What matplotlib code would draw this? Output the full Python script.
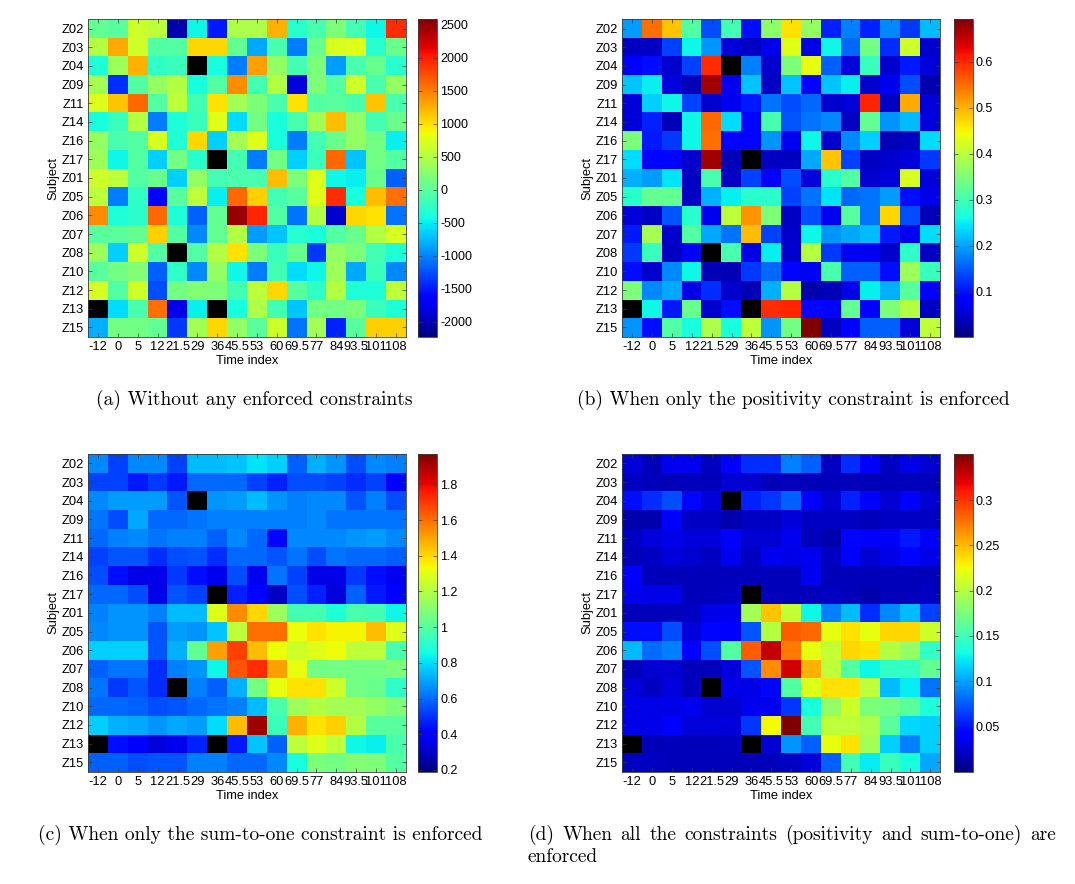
import numpy as np
import matplotlib
matplotlib.use('Agg')
import matplotlib.pyplot as plt
from matplotlib.colors import Normalize

plt.rcParams['font.family'] = ['Liberation Sans', 'DejaVu Sans']
plt.rcParams['axes.unicode_minus'] = False

subjects = ['Z02', 'Z03', 'Z04', 'Z09', 'Z11', 'Z14', 'Z16', 'Z17', 'Z01',
            'Z05', 'Z06', 'Z07', 'Z08', 'Z10', 'Z12', 'Z13', 'Z15']
time_labels = ['-12', '0', '5', '12', '21.5', '29', '36', '45.5', '53', '60',
               '69.5', '77', '84', '93.5', '101', '108']

N = None  # black (masked) cells

# (a) Without any enforced constraints
data_a = [
    [35, -13, 661, 565, -2034, -446, -1505, 468, 468, 1238, -302, -109, 180, -157, -446, 1912],
    [517, 1286, 661, -61, -61, 1046, 1046, 35, -831, -109, -1024, 83, 709, 757, -302, 83],
    [-350, 372, 1238, -254, -206, N, -398, -1024, 1335, 324, -157, 180, -879, -109, 83, -302],
    [420, -1409, -61, 324, 517, -398, -61, 1431, -157, 517, -1842, 180, -61, 661, -109, 324],
    [757, 1142, 1623, -61, 565, -157, 998, 420, 180, -109, 998, -61, -13, -109, 1142, -109],
    [-398, -206, 517, -1024, -350, -206, 757, -591, 131, -398, -109, 420, 1190, 324, -157, 83],
    [324, -109, -61, 709, -350, 1046, -639, 420, 757, -398, -1024, -157, 83, 324, 131, -494],
    [372, -446, -61, -639, 131, -302, N, -157, -1024, 131, -639, -206, 1623, -687, 131, -61],
    [661, 565, -61, 83, -639, 324, -157, -109, -109, 1190, 180, 757, -446, -494, 83, -1168],
    [565, -1024, -254, -1649, -13, 565, -494, 1623, 1094, -157, -13, 757, 1912, -398, 1190, 1575],
    [1431, -350, -302, 1623, -350, -1168, 35, 2490, 1960, -61, -1072, 517, -1890, 1046, 998, -1072],
    [-13, -13, 35, 1094, -61, -976, 35, 517, -879, -687, -302, -398, -61, 83, 517, 709],
    [372, -639, 661, -61, N, -61, 517, 998, 180, -206, 83, -1361, 324, 180, -157, -350],
    [-13, 131, 228, -1168, -254, -976, 324, -446, -1024, -157, -591, -446, 372, -831, -206, -976],
    [709, -61, 661, -1264, 131, 228, 180, -157, 565, 1046, -13, -254, 517, -350, -350, 565],
    [N, -591, -109, 1575, -1794, -494, N, -398, 468, -157, -687, 131, 131, 180, -206, -350],
    [-783, 131, 131, 35, -1361, 420, 1046, 324, -13, 661, -1072, 420, -1457, -13, 1094, 1094],
]
range_a = (-2227, 2586)
ticks_a = [-2000, -1500, -1000, -500, 0, 500, 1000, 1500, 2000, 2500]
ticklabels_a = ['-2000', '-1500', '-1000', '-500', '0', '500', '1000', '1500', '2000', '2500']

# (b) When only the positivity constraint is enforced
data_b = [
    [.195, .547, .485, .313, .140, .299, .099, .361, .464, .368, .112, .175, .112, .181, .126, .216],
    [.043, .043, .133, .257, .188, .057, .043, .071, .430, .064, .257, .161, .340, .119, .416, .050],
    [.078, .099, .050, .133, .595, N, .175, .050, .347, .437, .154, .057, .292, .050, .106, .057],
    [.223, .250, .057, .037, .671, .071, .223, .043, .223, .085, .223, .250, .050, .071, .140, .030],
    [.057, .230, .257, .133, .050, .071, .106, .168, .140, .161, .050, .057, .602, .043, .506, .057],
    [.057, .112, .037, .257, .554, .237, .092, .306, .147, .168, .181, .043, .326, .188, .216, .057],
    [.347, .106, .126, .257, .547, .092, .092, .188, .071, .257, .050, .181, .230, .037, .043, .237],
    [.237, .092, .092, .050, .671, .037, N, .043, .043, .202, .485, .133, .043, .050, .057, .126],
    [.209, .195, .244, .043, .306, .043, .133, .085, .140, .057, .278, .313, .050, .057, .423, .057],
    [.278, .326, .326, .043, .209, .250, .278, .278, .133, .168, .244, .161, .168, .195, .099, .064],
    [.057, .043, .147, .278, .071, .402, .520, .347, .043, .140, .071, .319, .168, .471, .140, .037],
    [.106, .382, .050, .313, .202, .168, .492, .133, .050, .257, .188, .202, .216, .106, .071, .237],
    [.126, .292, .043, .078, N, .306, .064, .250, .050, .395, .126, .071, .071, .050, .285, .043],
    [.099, .050, .181, .257, .037, .037, .126, .161, .092, .085, .306, .154, .154, .099, .375, .292],
    [.347, .181, .202, .064, .119, .050, .037, .209, .395, .030, .037, .064, .250, .209, .319, .085],
    [N, .257, .106, .333, .050, .099, N, .595, .602, .092, .092, .326, .078, .347, .395, .043],
    [.188, .099, .313, .264, .388, .264, .402, .188, .340, .692, .043, .085, .154, .154, .057, .402],
]
range_b = (0.002, 0.692)
ticks_b = [0.1, 0.2, 0.3, 0.4, 0.5, 0.6]
ticklabels_b = ['0.1', '0.2', '0.3', '0.4', '0.5', '0.6']

# (c) When only the sum-to-one constraint is enforced
data_c = [
    [.65, .53, .65, .65, .53, .74, .74, .76, .81, .78, .58, .72, .67, .55, .65, .64],
    [.53, .53, .46, .51, .46, .60, .60, .60, .53, .47, .55, .55, .53, .49, .53, .39],
    [.65, .69, .69, .69, .56, N, .67, .69, .74, .67, .64, .65, .65, .56, .64, .55],
    [.62, .55, .71, .60, .60, .62, .64, .64, .64, .64, .64, .65, .62, .62, .62, .62],
    [.60, .64, .65, .62, .64, .64, .58, .65, .60, .42, .65, .65, .65, .67, .69, .65],
    [.53, .56, .56, .49, .55, .56, .49, .60, .60, .56, .62, .55, .62, .60, .60, .58],
    [.55, .44, .35, .35, .51, .44, .37, .55, .37, .62, .53, .35, .35, .51, .44, .37],
    [.60, .60, .55, .35, .56, .53, N, .47, .42, .30, .55, .47, .33, .58, .46, .40],
    [.64, .67, .67, .64, .74, .74, 1.29, 1.54, 1.40, 1.15, .96, .96, .88, .97, .96, .85],
    [.65, .67, .67, .56, .69, .67, .76, 1.22, 1.60, 1.60, 1.33, 1.38, 1.35, 1.35, 1.45, 1.29],
    [.78, .78, .78, .56, .72, 1.03, 1.51, 1.69, 1.45, 1.33, 1.26, 1.29, 1.33, 1.22, 1.22, .97],
    [.58, .62, .62, .49, .64, .67, .85, 1.65, 1.72, 1.51, 1.31, 1.06, 1.06, 1.06, 1.06, 1.08],
    [.62, .51, .56, .49, N, .64, .58, .72, 1.06, 1.31, 1.38, 1.38, 1.26, 1.06, 1.04, .92],
    [.60, .60, .58, .55, .56, .60, .62, .64, .74, .97, 1.15, 1.20, 1.17, 1.17, 1.13, 1.08],
    [.78, .72, .71, .67, .71, .69, .80, 1.45, 1.92, .94, 1.47, 1.38, 1.42, 1.20, 1.01, 1.01],
    [N, .44, .40, .33, .37, .47, N, .46, .76, .58, 1.22, 1.29, 1.22, .85, .83, .97],
    [.58, .58, .55, .56, .56, .64, .64, .60, .60, .65, .87, 1.08, 1.06, 1.10, 1.08, .99],
]
range_c = (0.19, 1.97)
ticks_c = [0.2, 0.4, 0.6, 0.8, 1.0, 1.2, 1.4, 1.6, 1.8]
ticklabels_c = ['0.2', '0.4', '0.6', '0.8', '1', '1.2', '1.4', '1.6', '1.8']

# (d) When all the constraints are enforced
data_d = [
    [.028, .018, .035, .035, .021, .042, .060, .060, .088, .077, .021, .060, .042, .021, .032, .025],
    [.021, .018, .018, .018, .018, .025, .025, .018, .018, .018, .018, .018, .018, .018, .018, .018],
    [.049, .060, .070, .046, .028, N, .056, .063, .077, .042, .025, .056, .042, .025, .039, .025],
    [.014, .014, .042, .021, .021, .014, .021, .021, .028, .021, .021, .021, .018, .021, .021, .021],
    [.021, .028, .032, .028, .028, .039, .025, .025, .035, .018, .014, .046, .039, .039, .053, .039],
    [.018, .021, .028, .025, .021, .035, .021, .035, .032, .035, .021, .042, .025, .032, .046, .032],
    [.042, .018, .018, .018, .018, .018, .018, .018, .018, .035, .018, .018, .018, .018, .018, .018],
    [.035, .032, .032, .018, .018, .021, N, .018, .018, .018, .021, .018, .014, .018, .018, .021],
    [.018, .018, .018, .021, .032, .035, .193, .246, .207, .130, .088, .109, .060, .091, .109, .067],
    [.049, .049, .070, .028, .046, .042, .074, .200, .284, .281, .221, .235, .221, .239, .239, .211],
    [.109, .081, .088, .042, .070, .158, .284, .330, .274, .221, .207, .239, .235, .200, .186, .144],
    [.018, .025, .025, .018, .018, .028, .074, .267, .326, .253, .204, .158, .130, .144, .144, .165],
    [.028, .021, .028, .018, N, .032, .032, .046, .158, .218, .235, .235, .204, .109, .126, .084],
    [.032, .032, .032, .035, .025, .025, .035, .035, .063, .133, .186, .211, .176, .172, .161, .137],
    [.032, .032, .039, .028, .028, .028, .063, .225, .351, .151, .204, .204, .197, .161, .119, .116],
    [N, .018, .018, .018, .018, .021, N, .025, .095, .077, .221, .235, .193, .116, .088, .116],
    [.021, .021, .018, .018, .018, .018, .018, .018, .021, .028, .077, .151, .126, .147, .133, .102],
]
range_d = (0.0, 0.351)
ticks_d = [0.05, 0.1, 0.15, 0.2, 0.25, 0.3]
ticklabels_d = ['0.05', '0.1', '0.15', '0.2', '0.25', '0.3']

captions = ['(a) Without any enforced constraints',
            '(b) When only the positivity constraint is enforced',
            '(c) When only the sum-to-one constraint is enforced',
            '(d) When all the constraints (positivity and sum-to-one) are',
            'enforced']

W, H = 1075, 884
fig = plt.figure(figsize=(W / 100, H / 100), dpi=100)


def px_axes(x0, y0, x1, y1):
    return fig.add_axes([x0 / W, 1 - y1 / H, (x1 - x0) / W, (y1 - y0) / H])


cmap = plt.get_cmap('jet').copy()
cmap.set_bad('black')

panels = [
    (data_a, range_a, ticks_a, ticklabels_a, (88.3, 19.3, 405.7, 336.7), (418.3, 437.3)),
    (data_b, range_b, ticks_b, ticklabels_b, (622.3, 19.3, 940.3, 336.7), (954.0, 972.5)),
    (data_c, range_c, ticks_c, ticklabels_c, (88.3, 454.0, 405.7, 771.7), (418.3, 437.3)),
    (data_d, range_d, ticks_d, ticklabels_d, (622.3, 454.0, 940.3, 771.7), (954.0, 972.5)),
]

edge = '#3a3a3a'
for data, (vmin, vmax), cticks, cticklabels, box, cbx in panels:
    x0, y0, x1, y1 = box
    ax = px_axes(x0, y0, x1, y1)
    arr = np.array(data, dtype=float)
    im = ax.imshow(np.ma.masked_invalid(arr), cmap=cmap, norm=Normalize(vmin, vmax),
                   aspect='auto', interpolation='nearest')
    ax.set_xticks(np.arange(len(time_labels)))
    ax.set_xticklabels(time_labels)
    ax.set_yticks(np.arange(len(subjects)))
    ax.set_yticklabels(subjects)
    ax.tick_params(direction='in', top=True, right=True, length=3, width=0.5,
                   pad=3, color=edge)
    ax.tick_params(axis='x', labelsize=9.3)
    ax.tick_params(axis='y', labelsize=9.3)
    for s in ax.spines.values():
        s.set_linewidth(0.6)
        s.set_color(edge)
    ax.set_xlabel('Time index', fontsize=9.3)
    ax.set_ylabel('Subject', fontsize=9.3)
    hgt = y1 - y0
    wid = x1 - x0
    ax.xaxis.set_label_coords(0.5, -(355 - 336.7) / hgt)
    ax.yaxis.set_label_coords(-(88.3 - 59) / wid, 0.5)

    cax = px_axes(cbx[0], y0, cbx[1], y1)
    cb = fig.colorbar(im, cax=cax)
    cb.set_ticks(cticks)
    cb.set_ticklabels(cticklabels)
    cax.tick_params(direction='in', left=True, right=True, length=3, width=0.5,
                    labelsize=9, pad=2, color=edge)
    cb.outline.set_linewidth(0.6)
    cb.outline.set_edgecolor(edge)

cap_kw = dict(fontfamily='cmr10', fontsize=14, va='center')
fig.text(254 / W, 1 - 400 / H, captions[0], ha='center', **cap_kw)
fig.text(793 / W, 1 - 400 / H, captions[1], ha='center', **cap_kw)
fig.text(260 / W, 1 - 835 / H, captions[2], ha='center', **cap_kw)

# justified first line of caption (d), spanning 528..1056 px
renderer = fig.canvas.get_renderer()
words = captions[3].split(' ')
wtexts = [fig.text(0, 1 - 835 / H, w, ha='left', **cap_kw) for w in words]
widths = [t.get_window_extent(renderer).width for t in wtexts]
gap = (1056 - 528 - sum(widths)) / (len(words) - 1)
xpos = 528.0
for t, w in zip(wtexts, widths):
    t.set_x(xpos / W)
    xpos += w + gap
fig.text(528 / W, 1 - 857 / H, captions[4], ha='left', **cap_kw)

fig.savefig('out.png', dpi=100, facecolor='white')
